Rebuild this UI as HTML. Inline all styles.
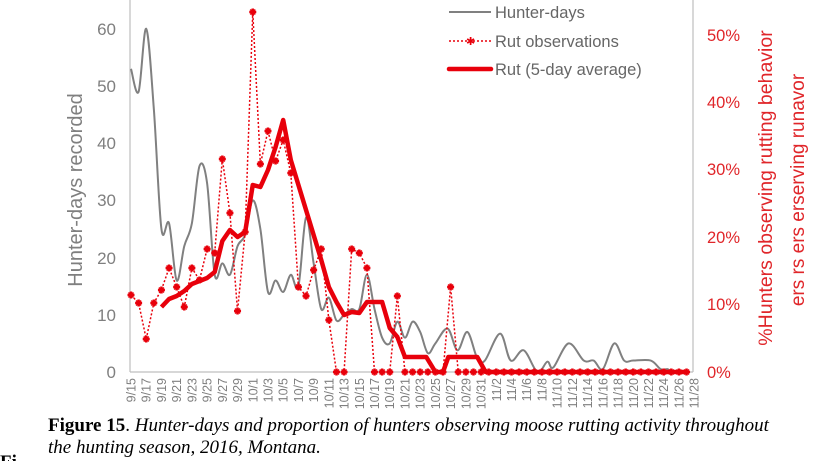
<!DOCTYPE html>
<html><head><meta charset="utf-8"><style>
html,body{margin:0;padding:0;background:#fff;width:820px;height:461px;overflow:hidden}
svg{display:block}
.t{font-family:"Liberation Sans",sans-serif;fill:#7f7f7f}
.r{font-family:"Liberation Sans",sans-serif;fill:#e0262a}
.cap{font-family:"Liberation Serif",serif;font-size:19px;fill:#000}
</style></head><body>
<svg id="s" width="820" height="461" xmlns="http://www.w3.org/2000/svg">
<line x1="130" y1="0" x2="130" y2="372" stroke="#bfbfbf" stroke-width="1.2"/>
<line x1="693" y1="0" x2="693" y2="372" stroke="#bfbfbf" stroke-width="1.2"/>
<line x1="130" y1="372" x2="693" y2="372" stroke="#bfbfbf" stroke-width="1.2"/>
<g class="t" font-size="17" text-anchor="end">
<text x="116" y="378">0</text><text x="116" y="321">10</text><text x="116" y="264">20</text>
<text x="116" y="206">30</text><text x="116" y="149">40</text><text x="116" y="92">50</text><text x="116" y="35">60</text>
</g>
<g class="r" font-size="16.5">
<text x="707" y="378">0%</text><text x="707" y="310">10%</text><text x="707" y="243">20%</text>
<text x="707" y="175">30%</text><text x="707" y="108">40%</text><text x="707" y="41">50%</text>
</g>
<text class="t" font-size="20" transform="translate(82,190) rotate(-90)" text-anchor="middle">Hunter-days recorded</text>
<text class="r" font-size="19.5" transform="translate(772,188) rotate(-90)" text-anchor="middle">%Hunters observing rutting behavior</text>
<text class="r" font-size="19" transform="translate(804,190) rotate(-90)" text-anchor="middle">ers rs ers erserving runavor</text>
<g id="xl" class="t" font-size="12.5"></g>
<g id="plot"></g>
<line x1="449" y1="12" x2="491" y2="12" stroke="#808080" stroke-width="2"/>
<line x1="449" y1="41" x2="491" y2="41" stroke="#e8000b" stroke-width="1.5" stroke-dasharray="2,2"/>
<text x="466" y="45" fill="#e8000b" font-size="11" font-family="DejaVu Sans">✱</text>
<line x1="449" y1="69" x2="491" y2="69" stroke="#e8000b" stroke-width="4.5" stroke-linecap="round"/>
<g class="t" font-size="16.5" style="fill:#666">
<text x="495" y="18">Hunter-days</text><text x="495" y="47">Rut observations</text><text x="495" y="75">Rut (5-day average)</text>
</g>
<text class="cap" x="48" y="431"><tspan font-weight="bold">Figure 15</tspan>. <tspan font-style="italic">Hunter-days and proportion of hunters observing moose rutting activity throughout</tspan></text>
<text class="cap" x="48" y="453" font-style="italic">the hunting season, 2016, Montana.</text>
<text class="cap" x="0" y="468" font-weight="bold">Fi</text>
</svg>
<script>
var X0=131,DX=7.61,ns="http://www.w3.org/2000/svg";
function X(d){return X0+d*DX}
function el(t,a,p){var e=document.createElementNS(ns,t);for(var k in a)e.setAttribute(k,a[k]);(p||document.getElementById('plot')).appendChild(e);return e}
var xl=document.getElementById('xl');
for(var d=0;d<=74;d+=2){var dt=new Date(2016,8,15+d);var s=(dt.getMonth()+1)+'/'+dt.getDate();
var t=el('text',{transform:'translate('+(X(d)+4.5)+',378) rotate(-90)','text-anchor':'end'},xl);t.textContent=s;}
var hp=[[0,53],[1,49],[2,60],[3,46],[4,25],[5,26],[6,16],[7,22],[8,26],[9,36],[10,33],[11,17],[12,19],[13,17],[14,22],[15,24],[16,30],[17,25],[18,14],[19,16],[20,14],[21,17],[22,15],[23,27],[24,19],[25,11],[26,13],[27,9],[28,10],[29,11],[30,11],[31,17],[32,11],[33,6],[34,5],[35,8.8],[36,6],[37,8.8],[38,7],[39,3.3],[40,5],[41.6,7.6],[42.9,3.8],[44.2,7],[45.5,2.4],[46.5,2],[48.5,6.7],[49.9,2],[51.6,3.8],[53.4,0],[54.7,1.8],[55.5,0.8],[57.5,5],[59.5,2],[60.8,2],[62,0.5],[63.5,5],[64.8,2],[66,2],[68.3,2],[69.6,0.5],[70.5,0.5],[71,0]];
var P=hp.map(function(p){return [X(p[0]),372-p[1]*5.72]});
var dd='M'+P[0][0]+','+P[0][1];
for(var i=0;i<P.length-1;i++){var p0=P[Math.max(0,i-1)],p1=P[i],p2=P[i+1],p3=P[Math.min(P.length-1,i+2)];
dd+=' C'+(p1[0]+(p2[0]-p0[0])/6)+','+(p1[1]+(p2[1]-p0[1])/6)+' '+(p2[0]-(p3[0]-p1[0])/6)+','+(p2[1]-(p3[1]-p1[1])/6)+' '+p2[0]+','+p2[1];}
el('path',{d:dd,fill:'none',stroke:'#808080','stroke-width':2});
var ry=[295,303,339,303,290,268,287,307,268,280,249,253,159,213,311,232,12,164,131,161,140,173,287,296,270,249,320,372,372,249,253,268,372,372,372,296,372,372,372,372,372,372,287];
while(ry.length<74)ry.push(372);
var pts=ry.map(function(y,i){return X(i)+','+y}).join(' ');
el('polyline',{points:pts,fill:'none',stroke:'#e8000b','stroke-width':1.5,'stroke-dasharray':'2,2'});
var av=[[4,307],[5,299],[6,296],[7,291],[8,284],[9,281],[10,278],[11,272],[12,241],[13,230],[14,237],[15,232],[16,185],[17,187],[18,170],[19,147],[20,120],[21,160],[22,185],[23,210],[24,235],[25,260],[26,287],[27,302],[28,315],[29,312],[30,313],[31,302],[32,302],[33,302],[34,328],[35,337],[36,357],[38.8,357],[40,372],[41,372],[41.7,357],[45.5,357],[46.6,372],[73,372]];
el('polyline',{points:av.map(function(p){return X(p[0])+','+p[1]}).join(' '),fill:'none',stroke:'#e8000b','stroke-width':4.5,'stroke-linejoin':'round'});
ry.forEach(function(y,i){var x=X(i);
el('path',{d:'M'+(x-3.5)+','+y+'L'+(x+3.5)+','+y+'M'+x+','+(y-3.5)+'L'+x+','+(y+3.5),stroke:'#e8000b','stroke-width':2.5});
el('path',{d:'M'+(x-2.5)+','+(y-2.5)+'L'+(x+2.5)+','+(y+2.5)+'M'+(x+2.5)+','+(y-2.5)+'L'+(x-2.5)+','+(y+2.5),stroke:'#e8000b','stroke-width':1.5});});
</script>
</body></html>
